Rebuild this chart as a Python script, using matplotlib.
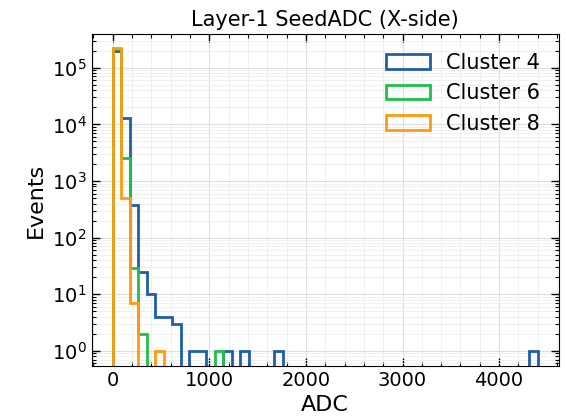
import numpy as np
import matplotlib
matplotlib.use("Agg")
import matplotlib.pyplot as plt
from matplotlib.ticker import MultipleLocator, LogLocator, NullFormatter

# 50 bins of 88 ADC between 0 and 4400
bin_edges = np.linspace(0, 4400, 51)

# counts per bin (bin index -> events)
cluster4_counts = {0: 2.0e5, 1: 1.27e4, 2: 376, 3: 25, 4: 10, 5: 4, 6: 4, 7: 3,
                   9: 1, 10: 1, 13: 1, 15: 1, 19: 1, 49: 1}
cluster6_counts = {0: 2.1e5, 1: 2550, 2: 29, 3: 2, 12: 1}
cluster8_counts = {0: 2.2e5, 1: 494, 2: 7, 5: 1}

labels = ["Cluster 4", "Cluster 6", "Cluster 8"]
colors = ["#1f5fa8", "#1fbf4a", "#ff9a10"]


def to_array(d):
    arr = np.zeros(len(bin_edges) - 1)
    for k, v in d.items():
        arr[k] = v
    return arr


fig = plt.figure(figsize=(5.67, 4.17), dpi=100)
ax = fig.add_axes([0.1614, 0.1223, 0.8245, 0.796])

centers = 0.5 * (bin_edges[:-1] + bin_edges[1:])
for counts, lab, col in zip([cluster4_counts, cluster6_counts, cluster8_counts], labels, colors):
    ax.hist(centers, bins=bin_edges, weights=to_array(counts), histtype="step",
            color=col, lw=2, label=lab)

ax.set_yscale("log")
ax.set_xlim(-220, 4620)
ax.set_ylim(0.54, 3.93e5)

ax.xaxis.set_major_locator(MultipleLocator(1000))
ax.xaxis.set_minor_locator(MultipleLocator(200))
ax.yaxis.set_major_locator(LogLocator(base=10, numticks=10))
ax.yaxis.set_minor_locator(LogLocator(base=10, subs=np.arange(2, 10), numticks=10))
ax.yaxis.set_minor_formatter(NullFormatter())

ax.tick_params(which="both", direction="in", top=True, right=True, labelsize=14)
ax.tick_params(which="major", length=6, width=1)
ax.tick_params(which="minor", length=3, width=0.8)
ax.grid(True, which="major", color="#dddddd", lw=0.8)
ax.grid(True, which="minor", color="#eeeeee", lw=0.6)
ax.set_axisbelow(True)

ax.set_title("Layer-1 SeedADC (X-side)", fontsize=15)
ax.set_xlabel("ADC", fontsize=16)
ax.set_ylabel("Events", fontsize=16)
ax.legend(loc="upper right", frameon=False, fontsize=15, handlelength=2.1)

fig.savefig("out.png", dpi=100)
